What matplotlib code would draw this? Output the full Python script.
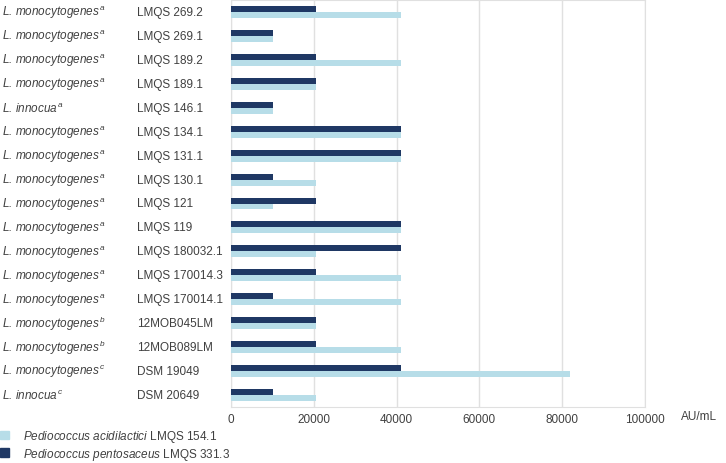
import numpy as np
import matplotlib.pyplot as plt
import matplotlib.transforms as mtransforms
from matplotlib.patches import Patch

plt.rcParams['font.family'] = ['Liberation Sans', 'DejaVu Sans']
plt.rcParams['mathtext.fontset'] = 'custom'
plt.rcParams['mathtext.rm'] = 'Liberation Sans'
plt.rcParams['mathtext.it'] = 'Liberation Sans:italic'

species = ["L. monocytogenes", "L. monocytogenes", "L. monocytogenes", "L. monocytogenes",
           "L. innocua", "L. monocytogenes", "L. monocytogenes", "L. monocytogenes",
           "L. monocytogenes", "L. monocytogenes", "L. monocytogenes", "L. monocytogenes",
           "L. monocytogenes", "L. monocytogenes", "L. monocytogenes", "L. monocytogenes",
           "L. innocua"]
sup = ["a"] * 13 + ["b", "b", "c", "c"]
strains = ["LMQS 269.2", "LMQS 269.1", "LMQS 189.2", "LMQS 189.1", "LMQS 146.1",
           "LMQS 134.1", "LMQS 131.1", "LMQS 130.1", "LMQS 121", "LMQS 119",
           "LMQS 180032.1", "LMQS 170014.3", "LMQS 170014.1", "12MOB045LM",
           "12MOB089LM", "DSM 19049", "DSM 20649"]
pentosaceus = [20480, 10240, 20480, 20480, 10240, 40960, 40960, 10240, 20480, 40960,
               40960, 20480, 10240, 20480, 20480, 40960, 10240]
acidilactici = [40960, 10240, 40960, 20480, 10240, 40960, 40960, 20480, 10240, 40960,
                20480, 40960, 40960, 20480, 40960, 81920, 20480]

DARK = "#1f3864"
LIGHT = "#b7dde8"
GRID = "#e0e0e0"
TXT = "#404040"

fig = plt.figure(figsize=(7.26, 4.64), dpi=100)
ax = fig.add_axes([231 / 726, 1 - 408 / 464, (645 - 231) / 726, 407 / 464])

y = np.arange(len(strains))
h = 0.25
ax.barh(y - h / 2, pentosaceus, height=h, color=DARK, zorder=3)
ax.barh(y + h / 2, acidilactici, height=h, color=LIGHT, zorder=3)

ax.set_xlim(0, 100000)
ax.set_ylim(len(strains) - 0.5, -0.5)
ax.set_xticks([0, 20000, 40000, 60000, 80000, 100000])
ax.xaxis.grid(True, color=GRID, lw=1, zorder=0)
ax.set_yticks([])
ax.tick_params(axis='x', length=0, labelsize=8.5, colors=TXT, pad=4)
for s in ax.spines.values():
    s.set_color(GRID)

trans = mtransforms.blended_transform_factory(fig.transFigure, ax.transData)
for i in range(len(strains)):
    ax.text(2 / 726, i, species[i] + r"$^{\,\mathit{" + sup[i] + "}}$", transform=trans,
            ha='left', va='center', fontsize=8.5, style='italic', color=TXT)
    ax.text(137 / 726, i, strains[i], transform=trans, ha='left', va='center',
            fontsize=8.5, color=TXT)

fig.text(681 / 726, 1 - 417 / 464, "AU/mL", fontsize=8.5, color=TXT, va='center')

handles = [Patch(color=LIGHT), Patch(color=DARK)]
labels = [r"$\mathit{Pediococcus\ acidilactici}$ LMQS 154.1",
          r"$\mathit{Pediococcus\ pentosaceus}$ LMQS 331.3"]
leg = fig.legend(handles, labels, loc='upper left', bbox_to_anchor=(0 / 726, 1 - 429 / 464),
                 frameon=False, fontsize=8.5, handlelength=0.75, handleheight=0.75,
                 handletextpad=1.2, labelspacing=0.15, borderaxespad=0, borderpad=0)
for t in leg.get_texts():
    t.set_color(TXT)

fig.savefig("out.png", dpi=100)
